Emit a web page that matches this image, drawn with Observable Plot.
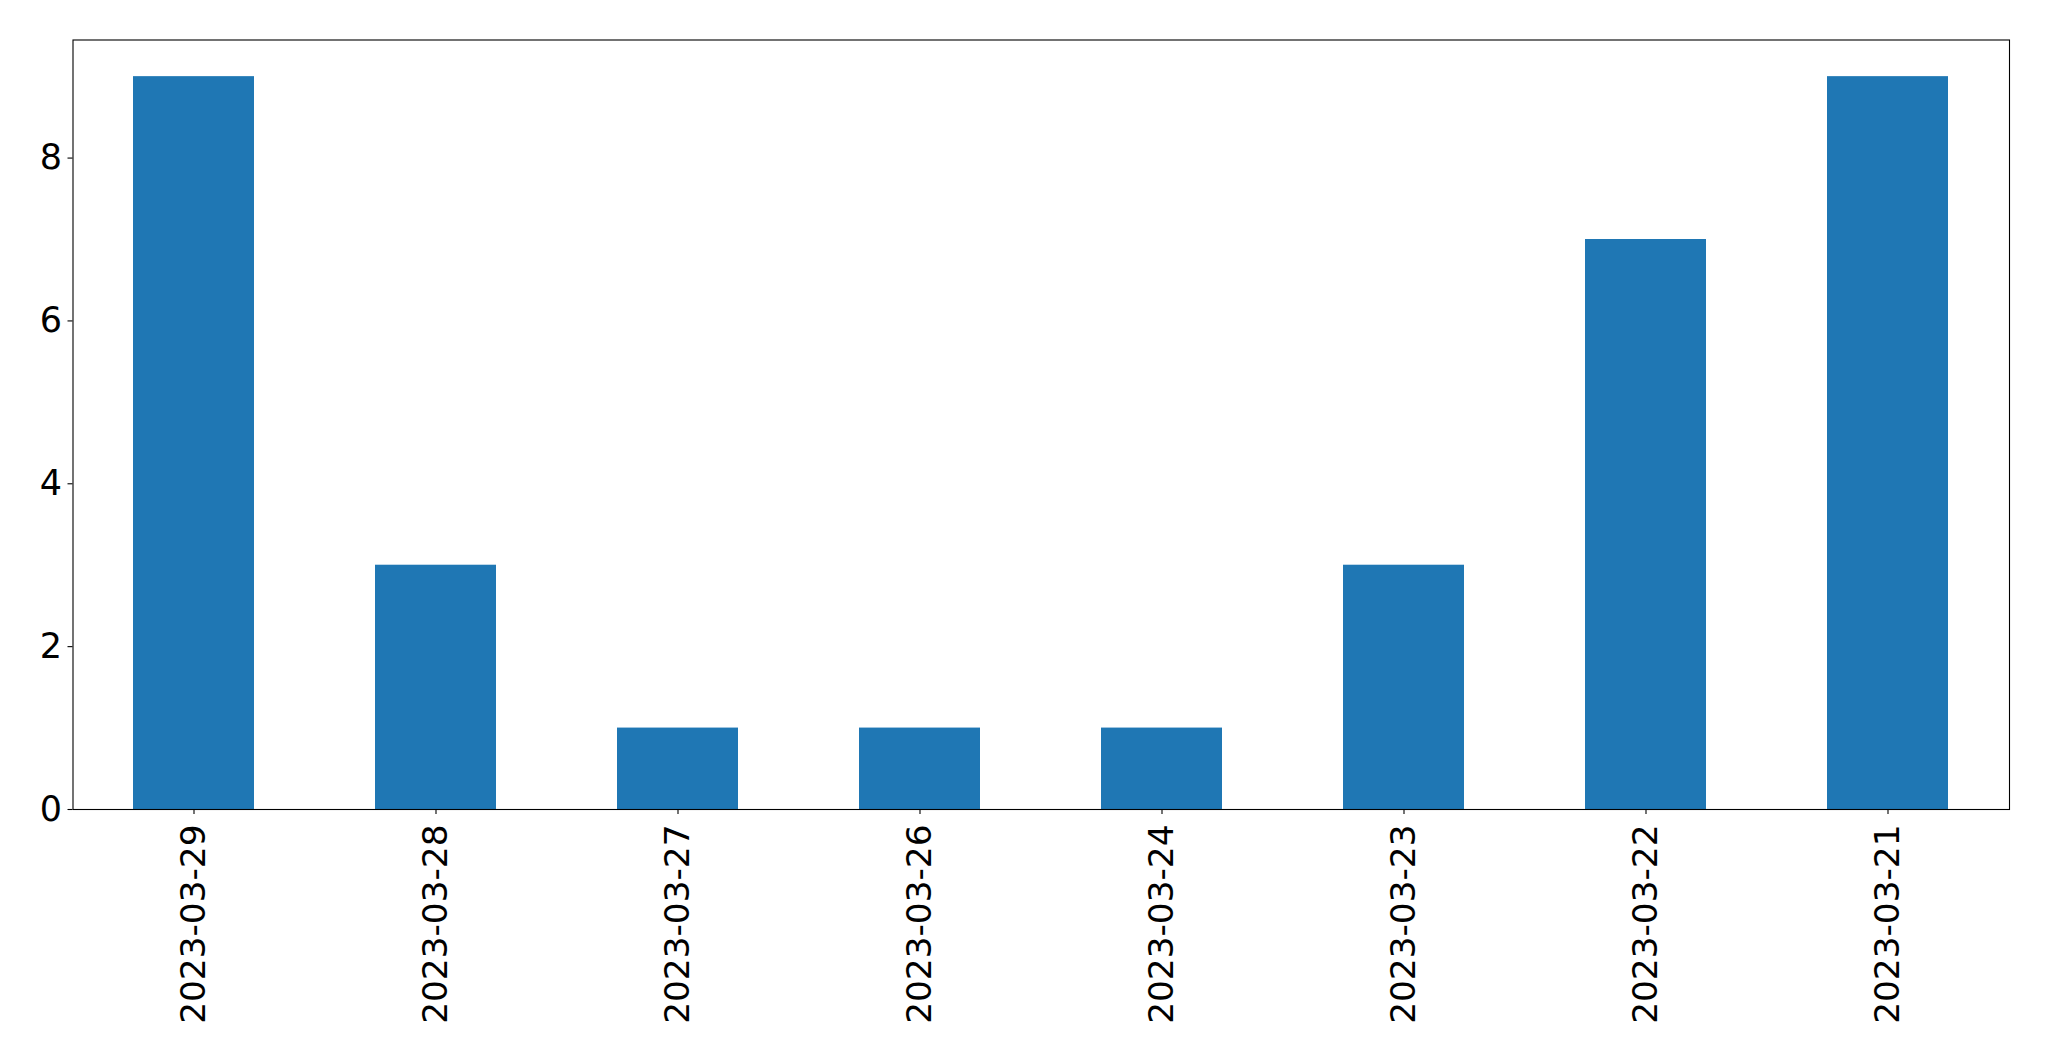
<!DOCTYPE html>
<html>
<head>
<meta charset="utf-8">
<script src="https://cdn.jsdelivr.net/npm/d3@7"></script>
<script src="https://cdn.jsdelivr.net/npm/@observablehq/plot@0.6"></script>
<style>
  html, body { margin: 0; padding: 0; background: #fff; }
  #chart svg { display: block; }
</style>
</head>
<body>
<div id="chart"></div>
<script>
const dates = ["2023-03-29", "2023-03-28", "2023-03-27", "2023-03-26", "2023-03-24", "2023-03-23", "2023-03-22", "2023-03-21"];
const counts = [9, 3, 1, 1, 1, 3, 7, 9];
const yTicks = [0, 2, 4, 6, 8];

const data = dates.map((d, i) => ({date: d, count: counts[i]}));

const chart = Plot.plot({
  width: 2049,
  height: 1061,
  marginLeft: 72.5,
  marginRight: 40,
  marginTop: 39.5,
  marginBottom: 252,
  style: {fontFamily: "DejaVu Sans", fontSize: "35px", color: "#000", background: "#fff"},
  x: {type: "band", domain: dates, paddingInner: 0.5, paddingOuter: 0.25, label: null},
  y: {domain: [0, 9.45], label: null},
  marks: [
    Plot.barY(data, {x: "date", y: "count", fill: "#1f77b4"}),
    Plot.axisY(yTicks, {tickSize: 5, tickPadding: 6, tickFormat: "d", stroke: "#000", fill: "#000", strokeWidth: 1.1, label: null}),
    Plot.axisX({tickSize: 5, tickPadding: 10, tickRotate: -90, textAnchor: "end", fontSize: 34.3, stroke: "#000", fill: "#000", strokeWidth: 1.1, label: null}),
    Plot.frame({stroke: "#000", strokeWidth: 1.1})
  ]
});
document.getElementById("chart").appendChild(chart);
</script>
</body>
</html>
